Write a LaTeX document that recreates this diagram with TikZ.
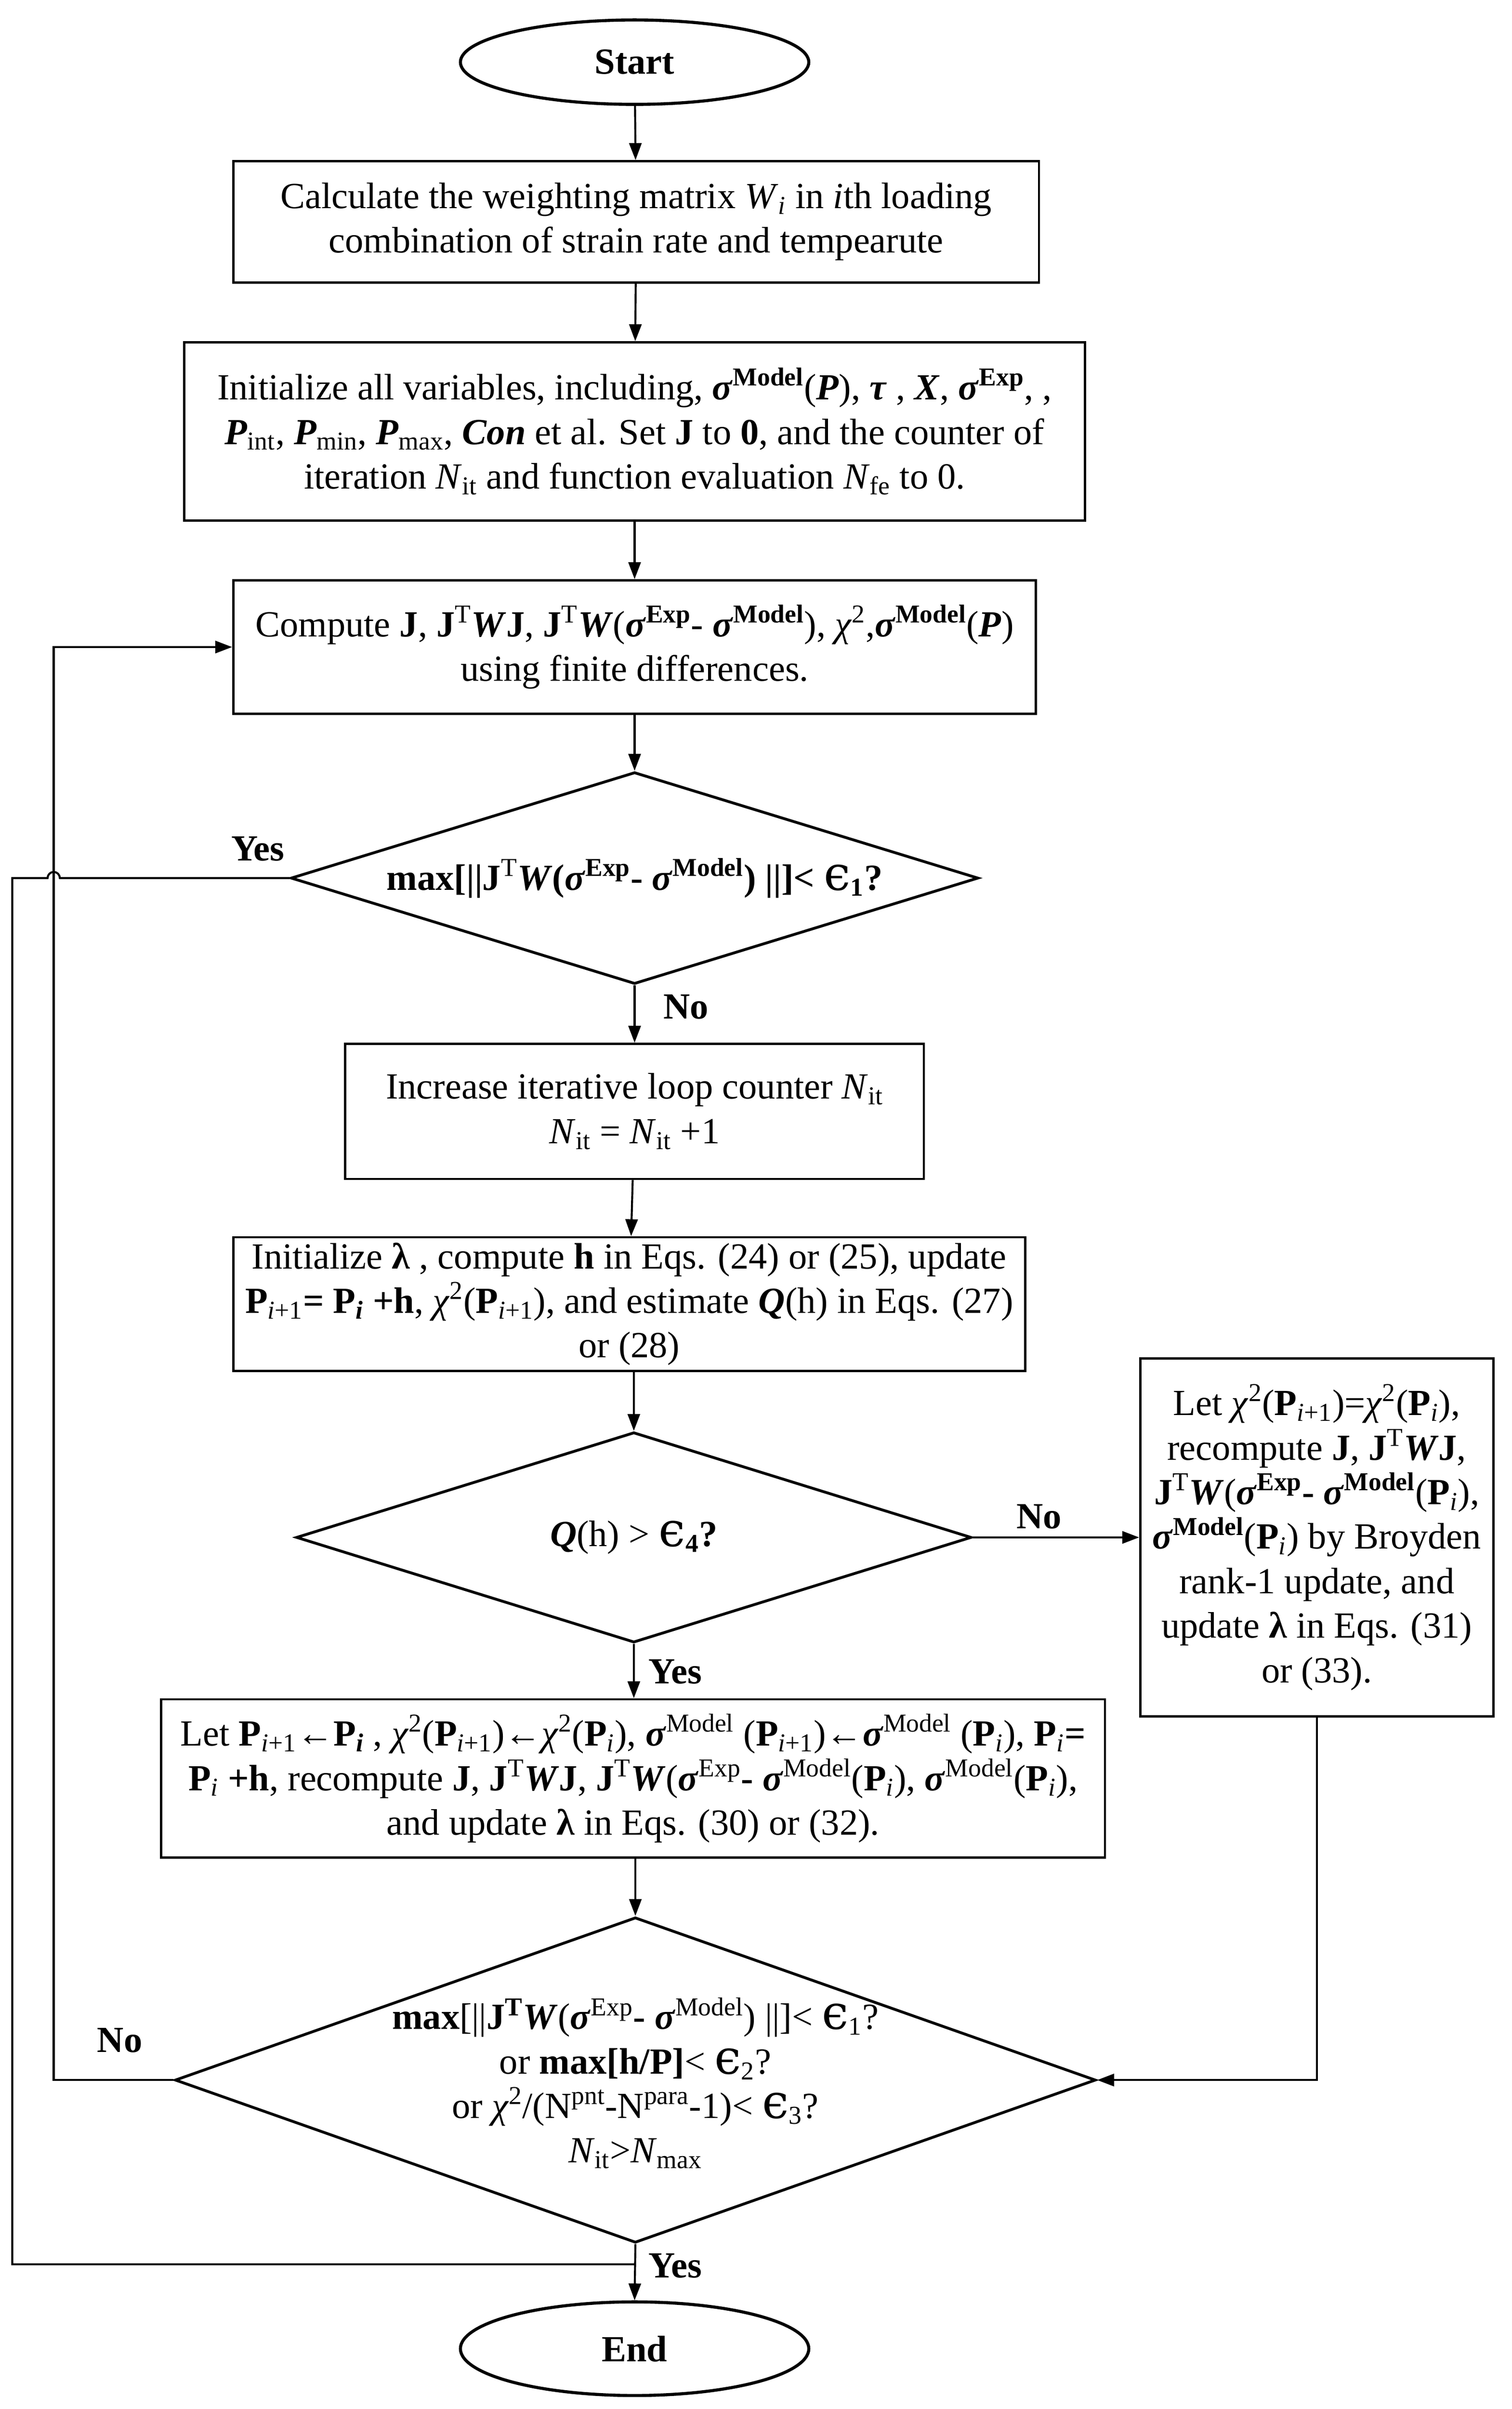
\documentclass[tikz,border=0pt]{standalone}
\usepackage{fontspec}
\setmainfont{Liberation Serif}
\newfontfamily\epsfont{DejaVu Serif}
\usetikzlibrary{shapes.geometric,arrows.meta,calc}
\newcommand{\eps}{{\epsfont\fontsize{31}{29}\selectfont ϵ}}
\newcommand{\bsig}{\textbf{\textit{σ}}}
\newcommand{\bW}{\textbf{\textit{W}}}
\newcommand{\mysup}[1]{\textsuperscript{#1}}
\newcommand{\mysub}[1]{\textsubscript{#1}}
\newcommand{\Pip}{\textbf{P}\mysub{\textit{i}+1}}
\newcommand{\Pii}{\textbf{P}\mysub{\textit{i}}}
\newcommand{\chisq}{\textit{χ}\mysup{2}}
\begin{document}
\begin{tikzpicture}[x=1pt,y=-1pt,
  every node/.style={font=\fontsize{24}{29}\selectfont},
  box/.style={draw, line width=1.5pt, align=center, inner sep=2pt},
  term/.style={draw, ellipse, line width=2pt, inner sep=0pt},
  dia/.style={draw, diamond, line width=1.8pt, inner sep=0pt},
  txt/.style={align=center, inner sep=0pt},
  lbl/.style={inner sep=0pt, font=\fontsize{24}{29}\selectfont\bfseries},
  line/.style={line width=1.3pt},
  arr/.style={line width=1.3pt, -{Triangle[length=11pt,width=8pt]}}]
\useasboundingbox (0,0) rectangle (985,1569.3);

\node[term, minimum width=227pt, minimum height=55pt] (start) at (413.5,40.5) {\textbf{Start}};

\node[box, minimum width=525pt, minimum height=79pt] (box1) at (414.5,144.5)
 {Calculate the weighting matrix \textit{W}\mysub{\textit{i}} in \textit{i}th loading\\combination of strain rate and tempearute};

\node[box, minimum width=587pt, minimum height=116pt] (box2) at (413.5,281)
 {Initialize all variables, including,  \bsig\mysup{\textbf{Model}}(\textbf{\textit{P}}), \textbf{\textit{τ}} , \textbf{\textit{X}}, \bsig\mysup{\textbf{Exp}}, ,\\
  \textbf{\textit{P}}\mysub{int}, \textbf{\textit{P}}\mysub{min}, \textbf{\textit{P}}\mysub{max}, \textbf{\textit{Con}} et al. Set \textbf{J} to \textbf{0}, and the counter of\\
  iteration \textit{N}\mysub{it} and function evaluation \textit{N}\mysub{fe} to 0.};

\node[box, minimum width=523pt, minimum height=87pt] (box3) at (413.5,421.5)
 {Compute  \textbf{J}, \textbf{J}\mysup{T}\bW\textbf{J}, \textbf{J}\mysup{T}\bW(\bsig\mysup{\textbf{Exp}}- \bsig\mysup{\textbf{Model}}), \chisq,\bsig\mysup{\textbf{Model}}(\textbf{\textit{P}})\\
  using finite differences.};

\node[dia, minimum width=448pt, minimum height=138pt] (d1) at (413.5,572) {};
\node[txt] (d1t) at (d1.center)
 {\textbf{max[||J}\mysup{T}\bW\textbf{(}\bsig\mysup{\textbf{Exp}}\textbf{- }\bsig\mysup{\textbf{Model}}\textbf{) ||]< }\eps\mysub{\textbf{1}}\textbf{?}};

\node[box, minimum width=377pt, minimum height=88pt] (box4) at (413.5,724)
 {Increase iterative loop counter \textit{N}\mysub{it}\\ \textit{N}\mysub{it}  = \textit{N}\mysub{it} +1};

\node[box, minimum width=516pt, minimum height=87pt] (box5) at (410,849.5)
 {Initialize  \textbf{λ} , compute \textbf{h} in Eqs. (24) or (25), update\\
  \textbf{P}\mysub{\textit{i}+1}\textbf{= P}\mysub{\textbf{\textit{i}}} \textbf{+h}, \chisq(\Pip), and estimate \textbf{\textit{Q}}(h) in Eqs. (27)\\
  or (28)};

\node[dia, minimum width=440pt, minimum height=137pt] (d2) at (413,1001.5) {};
\node[txt] (d2t) at (d2.center) {\textbf{\textit{Q}}(h) > \eps\mysub{\textbf{4}}\textbf{?}};

\node[box, minimum width=230pt, minimum height=233pt] (box6) at (858,1001.5)
 {Let \chisq(\Pip)=\chisq(\Pii),\\
  recompute \textbf{J}, \textbf{J}\mysup{T}\bW\textbf{J},\\
  \textbf{J}\mysup{T}\bW(\bsig\mysup{\textbf{Exp}}\textbf{-} \bsig\mysup{\textbf{Model}}(\Pii),\\
  \bsig\mysup{\textbf{Model}}(\Pii) by Broyden\\
  rank-1 update, and\\
  update \textbf{λ} in Eqs. (31)\\
  or (33).};

\node[box, minimum width=615pt, minimum height=103pt] (box7) at (412.5,1158.5)
 {Let \Pip\textbf{←P}\mysub{\textbf{\textit{i}}} , \chisq(\Pip)←\chisq(\Pii), \bsig\mysup{Model} (\Pip)←\bsig\mysup{Model} (\Pii), \textbf{P}\mysub{\textit{i}}\textbf{=}\\
  \Pii\ \textbf{+h},  recompute \textbf{J}, \textbf{J}\mysup{T}\bW\textbf{J}, \textbf{J}\mysup{T}\bW(\bsig\mysup{Exp}\textbf{-} \bsig\mysup{Model}(\Pii), \bsig\mysup{Model}(\Pii),\\
  and  update \textbf{λ} in Eqs. (30) or (32).};

\node[dia, minimum width=600pt, minimum height=212pt] (d3) at (414,1355) {};
\node[txt] (d3t) at (414,1357)
 {\textbf{max}[||\textbf{J}\mysup{\textbf{T}}\bW(\bsig\mysup{Exp}\textbf{-} \bsig\mysup{Model}) ||]< \eps\mysub{1}?\\
  or \textbf{max[h/P]}< \eps\mysub{2}?\\
  or \chisq/(N\mysup{pnt}-N\mysup{para}-1)< \eps\mysub{3}?\\
  \textit{N}\mysub{it}>\textit{N}\mysub{max}};

\node[term, minimum width=227pt, minimum height=61pt] (end) at (413.5,1530) {\textbf{End}};

% labels
\node[lbl] (yes1) at (168,553) {Yes};
\node[lbl] (no1) at (447,656) {No};
\node[lbl] (no2) at (677,988) {No};
\node[lbl] (yes2) at (440,1089) {Yes};
\node[lbl] (no3) at (78,1329) {No};
\node[lbl] (yes3) at (440,1476) {Yes};

% coordinates for free routing
\coordinate (loopx) at (35,0);
\coordinate (outx) at (8,0);
\coordinate (join) at (413.5,1475);

% connectors
\draw[arr] (start) -- (box1);
\draw[arr] (box1) -- (box2);
\draw[arr] (box2) -- (box3);
\draw[arr] (box3) -- (d1);
\draw[arr] (d1) -- (box4);
\draw[arr] (box4) -- (box5);
\draw[arr] (box5.south -| d2.north) -- (d2.north);
\draw[arr] (d2) -- (box7.north -| d2.south);
\draw[arr] (d2.east) -- (box6.west |- d2.east);
\draw[arr] (box7.south -| d3.north) -- (d3.north);
\draw[arr] (box6.south) |- (d3.east);
\draw[arr] (d3.west) -- (d3.west -| loopx) -- (box3.west -| loopx) -- (box3.west);
\draw[line] (d1.west) -- ($(d1.west -| loopx)+(4,0)$) arc[start angle=0,end angle=-180,radius=4] -- (d1.west -| outx) -- (join -| outx) -- (join);
\draw[arr] (d3.south) -- (end.north);
\end{tikzpicture}
\end{document}
